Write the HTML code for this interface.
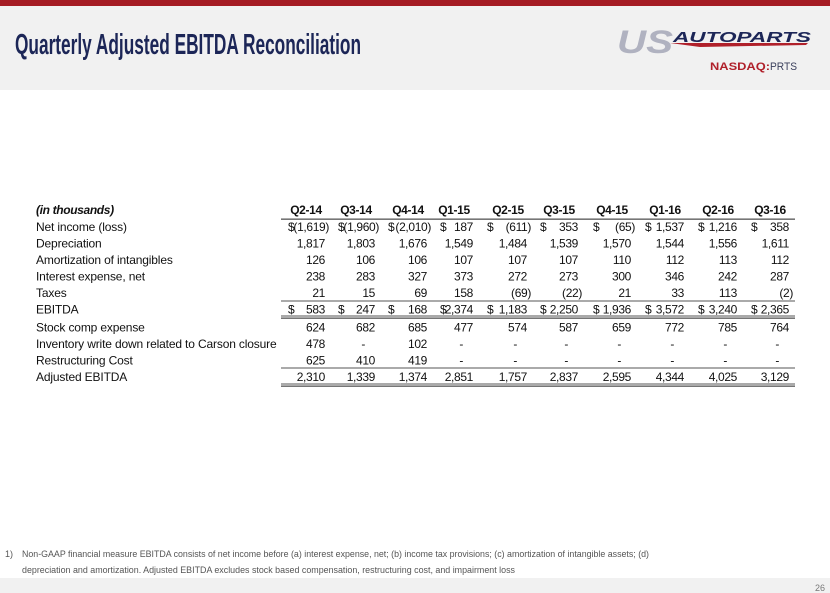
<!DOCTYPE html>
<html><head><meta charset="utf-8"><style>
html,body{margin:0;padding:0;background:#fff;}
svg{display:block;font-family:"Liberation Sans",sans-serif;}
</style></head><body>
<svg width="830" height="593" viewBox="0 0 830 593" xmlns="http://www.w3.org/2000/svg" id="slide">
<rect x="0" y="0" width="830" height="90" fill="#f1f1f1"/>
<rect x="0" y="0" width="830" height="6" fill="#a51c24"/>
<text x="15" y="54" font-size="29" font-weight="bold" fill="#1c2657" textLength="346" lengthAdjust="spacingAndGlyphs">Quarterly Adjusted EBITDA Reconciliation</text>
<g>
<text x="617" y="53" font-size="32" font-weight="bold" font-style="italic" fill="#b0b2c0" textLength="56" lengthAdjust="spacingAndGlyphs">US</text>
<text x="673" y="42" font-size="15" font-weight="bold" font-style="italic" fill="#1c2657" textLength="138" lengthAdjust="spacingAndGlyphs">AUTOPARTS</text>
<path d="M670 43 L808 43 L806 45 L700 47 Z" fill="#b0202a"/>
<text x="710" y="70" font-size="11" font-weight="bold" fill="#b0202a" textLength="60" lengthAdjust="spacingAndGlyphs">NASDAQ:</text>
<text x="770" y="70" font-size="11" fill="#3a3f5c" textLength="27" lengthAdjust="spacingAndGlyphs">PRTS</text>
</g>
<g id="tbl"></g>
<text x="5" y="557" font-size="9" fill="#555">1)</text>
<text x="22" y="557" font-size="9" fill="#555" textLength="627" lengthAdjust="spacingAndGlyphs">Non-GAAP financial measure EBITDA consists of net income before (a) interest expense, net; (b) income tax provisions; (c) amortization of intangible assets; (d)</text>
<text x="22" y="573" font-size="9" fill="#555" textLength="493" lengthAdjust="spacingAndGlyphs">depreciation and amortization.  Adjusted EBITDA excludes stock based compensation, restructuring cost, and impairment loss</text>
<rect x="0" y="578" width="830" height="15" fill="#f1f1f1"/>
<text x="825" y="591" font-size="9" fill="#777" text-anchor="end">26</text>
</svg>
<script>
const quarters = ["Q2-14","Q3-14","Q4-14","Q1-15","Q2-15","Q3-15","Q4-15","Q1-16","Q2-16","Q3-16"];
const rowLabels = ["Net income (loss)","Depreciation","Amortization of intangibles","Interest expense, net","Taxes","EBITDA","Stock comp expense","Inventory write down related to Carson closure","Restructuring Cost","Adjusted EBITDA"];
const netIncome = [-1619,-1960,-2010,187,-611,353,-65,1537,1216,358];
const depreciation = [1817,1803,1676,1549,1484,1539,1570,1544,1556,1611];
const amortization = [126,106,106,107,107,107,110,112,113,112];
const interestExp = [238,283,327,373,272,273,300,346,242,287];
const taxes = [21,15,69,158,-69,-22,21,33,113,-2];
const ebitda = [583,247,168,2374,1183,2250,1936,3572,3240,2365];
const stockComp = [624,682,685,477,574,587,659,772,785,764];
const inventoryWd = [478,null,102,null,null,null,null,null,null,null];
const restructuring = [625,410,419,null,null,null,null,null,null,null];
const adjEbitda = [2310,1339,1374,2851,1757,2837,2595,4344,4025,3129];
const rows = [netIncome,depreciation,amortization,interestExp,taxes,ebitda,stockComp,inventoryWd,restructuring,adjEbitda];
const dollarRows = [0,5];

const NS="http://www.w3.org/2000/svg";
const g=document.getElementById('tbl');
const colRight=[325,375,427,473,527,578,631,684,737,789];
const dollarOff=[37,37,39,33,40,38,38,39,39,38];
const rowY=i=>231+i*16.5+(i>=6?1.5:0);
function fmt(v){ if(v===null) return "-"; const s=Math.abs(v).toLocaleString('en-US'); return v<0?"("+s+")":s; }
function txt(x,y,s,opts){
  const t=document.createElementNS(NS,'text');
  t.setAttribute('x',x);t.setAttribute('y',y);
  t.setAttribute('font-size','12');t.setAttribute('fill','#111');
  t.setAttribute('letter-spacing',opts.ls!==undefined?opts.ls:'-0.35');
  if(opts.anchor)t.setAttribute('text-anchor',opts.anchor);
  if(opts.bold)t.setAttribute('font-weight','bold');
  if(opts.italic)t.setAttribute('font-style','italic');
  t.textContent=s; g.appendChild(t); return t;
}
const h=txt(36,214,"(in thousands)",{bold:true,italic:true});


quarters.forEach((q,c)=>{
  const t=txt(colRight[c]-19,214,q,{bold:true,anchor:'middle'});
  
  
});
rowLabels.forEach((lab,r)=>{
  const y=rowY(r);
  const t=txt(36,y,lab,{ls:'-0.15'});
  
  
  rows[r].forEach((v,c)=>{
    const isNeg=v!==null&&v<0;
    let x=colRight[c]+(isNeg?4:0);
    if(v===null) x=colRight[c]-10;
    const cell=txt(x,y,fmt(v),{anchor:'end'});
    
    
    if(dollarRows.includes(r)){
      const d=txt(colRight[c]-dollarOff[c],y,"$",{});
      
      
    }
  });
});
function line(y,w){
  const l=document.createElementNS(NS,'rect');
  l.setAttribute('x',281);l.setAttribute('y',y);l.setAttribute('width',514);l.setAttribute('height',w);
  l.setAttribute('fill','#555');
  
  
  g.appendChild(l);
}
line(218.5,1.3);line(300.5,1);line(315.5,1);line(317.5,1.3);line(367.5,1);line(383.5,1);line(385.5,1.3);
</script>
</body></html>
